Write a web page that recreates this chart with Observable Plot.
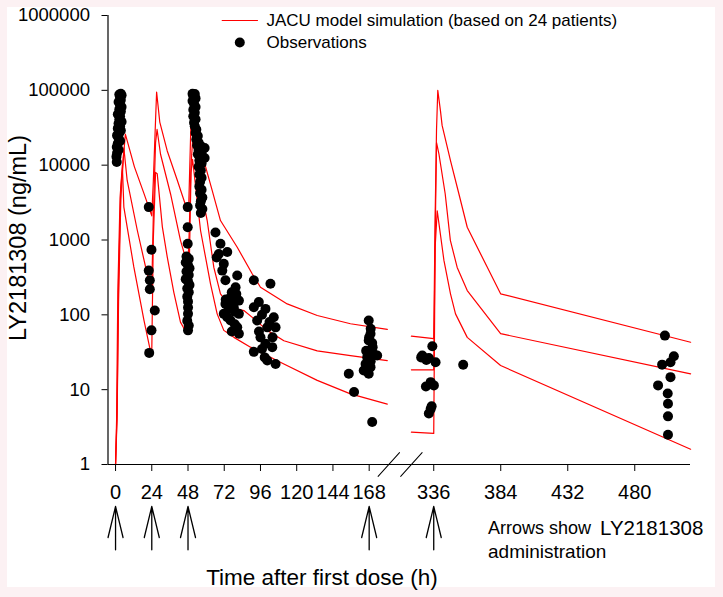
<!DOCTYPE html>
<html>
<head>
<meta charset="utf-8">
<script src="https://cdn.jsdelivr.net/npm/d3@7"></script>
<script src="https://cdn.jsdelivr.net/npm/@observablehq/plot@0.6"></script>
<style>
  html, body { margin: 0; padding: 0; }
  body { width: 723px; height: 597px; background: #fcf1f3; position: relative; overflow: hidden; }
  #paper { position: absolute; left: 7px; top: 7px; width: 708px; height: 580px; background: #ffffff; }
  #chart { position: absolute; left: 0; top: 0; }
</style>
</head>
<body>
<div id="paper"></div>
<div id="chart"></div>
<script>
// ---------------- data ----------------
const legendLabels = ["JACU model simulation (based on 24 patients)", "Observations"];
const yLabel = "LY2181308 (ng/mL)";
const xLabel = "Time after first dose (h)";
const noteLine1a = "Arrows show";
const noteLine1b = "LY2181308";
const noteLine2 = "administration";

const xTicks = [0, 24, 48, 72, 96, 120, 144, 168, 336, 384, 432, 480];
const yTicks = [1, 10, 100, 1000, 10000, 100000, 1000000];
const doseTimes = [0, 24, 48, 168, 336];
const axisBreaks = [181, 320];

// simulation percentile lines [time h, conc ng/mL]
const upperLeft = [[0,1],[1,5],[2,300],[3.5,5000],[6.5,26000],[12.5,9500],[18.8,4200],[24,2100],[25,6000],[26.5,40000],[27.2,95000],[29.3,37600],[34.2,15600],[40.9,6300],[47.5,2500],[48.5,3000],[50,40000],[51,95000],[53,40000],[58.5,11500],[64,4600],[69.5,1820],[80.6,800],[90.5,354],[96,234],[113.7,140],[133.6,98],[155.6,76],[180,64]];
const midLeft = [[0,1],[1,4],[2,150],[3.5,3500],[5.5,17000],[7.7,6240],[14.4,1350],[20.9,355],[24,230],[25,2000],[26.5,20000],[27.5,30000],[29.8,14000],[36.4,4150],[43,990],[47.5,480],[48.5,800],[50,10000],[51.5,30000],[54,9000],[60.7,1820],[65.1,430],[69.5,190],[76.2,126],[85,114],[91.6,89],[100.5,62],[111.5,45],[133.6,33],[155.6,28.5],[180,24.5]];
const lowLeft = [[0,1],[0.7,4],[1.5,200],[3,3700],[4.5,10000],[5.5,2750],[12.1,437],[18.8,85],[22.7,36],[24,32],[25,1000],[26.5,8000],[27.6,7700],[31,1500],[34.2,600],[38.6,200],[43,80],[47.5,55],[48.5,200],[50,8000],[51,12000],[56.3,1340],[62.9,260],[67.3,103],[71.7,62],[78.4,50],[89.4,37],[111.5,22],[133.6,13.3],[155.6,8.8],[180,6.4]];
const upperRight = [[320,52],[336,48],[337,2000],[338,30000],[338.9,100000],[340.8,53600],[342,34000],[348,11500],[354,4150],[360,1480],[383.9,191],[520,43]];
const midRight = [[320,18.4],[336,18.4],[337,1000],[338,20000],[339.7,14200],[344.2,4150],[347.9,990],[352.8,430],[360,211],[383.9,56],[520,16.3]];
const lowRight = [[320,2.7],[336,2.6],[337,800],[338.5,2460],[343.3,534],[348,191],[351.6,103],[360,50],[383.9,21],[520,1.6]];

// observations [time h, conc ng/mL]
const obsDose1 = [[3.5,90000],[2.5,88000],[4,86000],[3,80000],[3.5,74000],[2,70000],[3,64000],[4,60000],[2.5,56000],[3.5,52000],[1.5,48000],[3,45000],[2.5,41000],[4,38000],[2,36000],[3,33000],[1.5,31000],[3.5,29000],[2.5,27000],[1,25000],[2,23000],[3,21000],[1.5,19500],[0.8,17500],[2,16000],[1,14500],[0.6,13000],[0.8,11000]];
const obsDose2 = [[22,2750],[23.8,740],[22,390],[22.7,290],[22.7,220],[26,114],[23.8,62],[22.3,31]];
const obsTrough48 = [[47.8,2750],[47.8,1480],[47.8,890],[47,600],[48.5,560],[46.5,500],[48,460],[49,420],[47,380],[48.5,340],[46.5,300],[48,280],[49,250],[47.5,225],[48.5,200],[47.5,175],[48,150],[48,125],[48,103],[47.5,83],[48.5,72],[48,62]];
const obsDose3 = [[51,90000],[52.5,89000],[51.5,84000],[53,78000],[51,72000],[52,66000],[53,60000],[51.5,55000],[52.5,50000],[51.5,45000],[53,41000],[52,37000],[52.5,33000],[53.5,30000],[53,27000],[54.5,24500],[53.5,22000],[55,20000],[54,18500],[56.5,18000],[59,17000],[55,16000],[57,15000],[54.5,14000],[56,13000],[59,12500],[55.5,11500],[57,10500],[55,9500],[56.5,8500],[55.5,7500],[57,6800],[56,6000],[55.5,5200],[57,4700],[56,4200],[57.5,3700],[56.5,3300],[56,2900],[57.5,2600],[56.5,2300]];
const obsDay3 = [[66.2,1260],[69.5,890],[68.4,650],[74,690],[67,585],[71.7,480],[70.7,390],[72.8,290],[80.6,335],[79.5,234],[76.2,172],[81.7,155],[72.8,140],[78.3,126],[71.7,103],[81.7,103],[76.2,84],[80.6,68],[81.7,56],[74,93],[79,110],[75,120],[78,150],[80,190],[77,200],[73,160],[79,75],[77,60]];
const obsDay4 = [[91.6,290],[102.6,260],[94.9,148],[91.6,126],[99.3,120],[104.8,93],[93.8,84],[100.5,68],[106,68],[96,50],[99.3,41],[91.6,32],[103.8,37],[100.5,24.5],[106,22],[98.8,27],[97,100],[102,80],[95,60],[104,50],[97,35]];
const obsWeek1 = [[167.7,84],[168.9,56],[167.7,45.5],[170.3,37],[171,30],[173.3,28.6],[166.7,27],[165.6,22],[168.9,20],[164.4,18],[167.7,16.3],[154.5,16.3],[158,9.3],[170,3.7],[169,65],[168,50],[170,42],[166,33],[169,24],[167,19]];
const obsWeek2 = [[335,38],[327.8,28.6],[332.5,26.4],[337.3,23.3],[327,27],[330.7,25],[330.4,11],[336.1,11.4],[333.8,12.6],[333.8,5.5],[332.5,4.8],[334.5,6],[357.1,21.5]];
const obsWeek3 = [[501.6,52.8],[508,28],[505.6,23.3],[499.6,21.6],[505.6,14.7],[496.7,11.4],[503.6,8.9],[503.8,6.5],[503.8,4.4],[503.8,2.5]];

// ---------------- build ----------------
const simSeries = [
  ["p95-a", upperLeft], ["p50-a", midLeft], ["p5-a", lowLeft],
  ["p95-b", upperRight], ["p50-b", midRight], ["p5-b", lowRight]
];
const simRows = simSeries.flatMap(([key, pts]) => pts.map(([t, c]) => ({key, t, c})));
const obsRows = [obsDose1, obsDose2, obsTrough48, obsDose3, obsDay3, obsDay4, obsWeek1, obsWeek2, obsWeek3]
  .flat().map(([t, c]) => ({t, c}));

const arrowShape = {
  draw(ctx, l) {
    ctx.moveTo(0, 0); ctx.lineTo(0, -l);
    ctx.moveTo(-7.5, 31 - l); ctx.lineTo(0, -l); ctx.lineTo(7.5, 31 - l);
  }
};
const lineShape = { draw(ctx, l) { ctx.moveTo(0, 0); ctx.lineTo(0, -l); } };

const font = "'Liberation Sans', Arial, sans-serif";

const chart = Plot.plot({
  width: 723,
  height: 597,
  marginTop: 15,
  marginBottom: 133,
  marginLeft: 107.5,
  marginRight: 33,
  style: {background: "transparent", fontFamily: font, color: "black", overflow: "visible"},
  x: {type: "linear", domain: [-5, 181, 320, 520], range: [107.5, 388.3, 410.9, 690.1]},
  y: {type: "log", domain: [1, 1e6], range: [464, 15]},
  marks: [
    Plot.line(simRows, {x: "t", y: "c", z: "key", stroke: "#ff0000", strokeWidth: 1.2, curve: "linear"}),
    Plot.dot(obsRows, {x: "t", y: "c", r: 5, fill: "black", stroke: "none"}),
    Plot.ruleX([-5], {stroke: "black", strokeWidth: 1.2}),
    Plot.ruleY([1], {stroke: "black", strokeWidth: 1.2}),
    Plot.axisY(yTicks, {anchor: "left", tickSize: 6, tickPadding: 12, fontSize: 18.5, tickFormat: d => String(d), label: null}),
    Plot.axisX(xTicks, {anchor: "bottom", tickSize: 7, tickPadding: 13, fontSize: 20, tickFormat: d => String(d), label: null}),
    Plot.vector(axisBreaks, {x: d => d, frameAnchor: "bottom", anchor: "middle", length: 32, rotate: 42, shape: lineShape, stroke: "black", strokeWidth: 1}),
    Plot.vector(doseTimes, {x: d => d, frameAnchor: "bottom", dy: 85.3, anchor: "start", length: 43.3, rotate: 0, shape: arrowShape, stroke: "black", strokeWidth: 1.3}),
    Plot.text([yLabel], {frameAnchor: "left", dx: -90, dy: -2, rotate: -90, fontSize: 23.5, textAnchor: "middle", lineAnchor: "middle"}),
    Plot.text([xLabel], {frameAnchor: "bottom-left", dx: 214, dy: 113, fontSize: 22.5, lineAnchor: "middle", textAnchor: "middle"}),
    Plot.text([noteLine1a], {frameAnchor: "bottom-left", dx: 380, dy: 64, fontSize: 18, textAnchor: "start", lineAnchor: "middle"}),
    Plot.text([noteLine1b], {frameAnchor: "bottom-left", dx: 492, dy: 64, fontSize: 20.5, textAnchor: "start", lineAnchor: "middle"}),
    Plot.text([noteLine2], {frameAnchor: "bottom-left", dx: 380, dy: 87, fontSize: 19, textAnchor: "start", lineAnchor: "middle"}),
    Plot.vector([legendLabels[0]], {frameAnchor: "top-left", dx: 114.2, dy: 5, anchor: "start", length: 35.3, rotate: 90, shape: lineShape, stroke: "#ff0000", strokeWidth: 1.2}),
    Plot.dot([legendLabels[1]], {frameAnchor: "top-left", dx: 131.8, dy: 27, r: 5, fill: "black", stroke: "none"}),
    Plot.text([legendLabels[0]], {frameAnchor: "top-left", dx: 158.5, dy: 5, fontSize: 17, textAnchor: "start", lineAnchor: "middle"}),
    Plot.text([legendLabels[1]], {frameAnchor: "top-left", dx: 158.5, dy: 27, fontSize: 17, textAnchor: "start", lineAnchor: "middle"})
  ]
});
document.getElementById("chart").appendChild(chart);
</script>
</body>
</html>
